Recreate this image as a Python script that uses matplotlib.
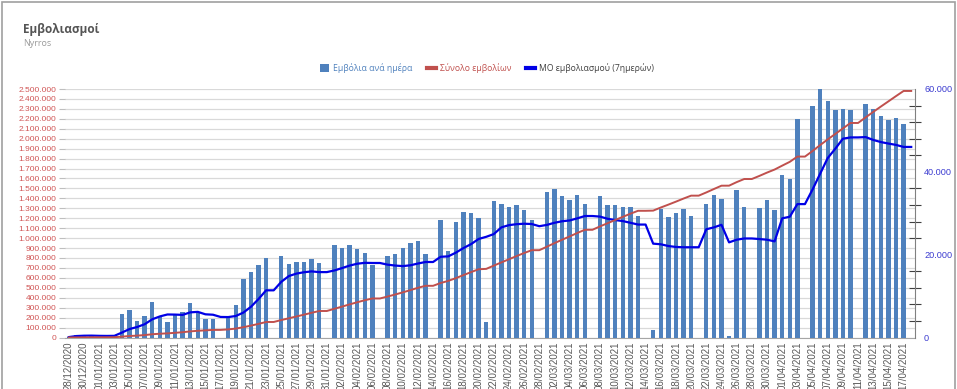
import matplotlib
matplotlib.use("Agg")
import matplotlib.pyplot as plt
from matplotlib.patches import Patch, Rectangle
from matplotlib.lines import Line2D
from matplotlib.ticker import FuncFormatter
import numpy as np
import pandas as pd

# Daily categories: 28/12/2020 .. 18/04/2021
dates = pd.date_range("2020-12-28", "2021-04-18", freq="D")
date_labels = [d.strftime("%d/%m/%Y") for d in dates]

# Vaccinations per day (thousands)
daily_k = [
    0.1, 0.6, 0.6, 0.5, 0.2, 0.3, 0.5, 5.6, 6.6, 4.0,
    5.3, 8.5, 5.1, 3.8, 5.4, 6.1, 8.3, 6.1, 4.4, 4.4,
    0.0, 5.2, 7.9, 14.1, 15.9, 17.5, 19.1, 0.0, 19.6, 17.7,
    18.2, 18.2, 18.9, 17.9, 0.0, 22.4, 21.7, 22.4, 21.4, 20.4,
    17.6, 0.0, 19.6, 20.2, 21.5, 22.7, 23.4, 20.2, 0.0, 28.4,
    20.9, 27.8, 30.4, 30.1, 28.9, 3.7, 33.0, 32.2, 31.6, 32.0,
    30.9, 28.4, 0.0, 35.2, 35.8, 34.2, 33.3, 34.5, 32.3, 0.0,
    34.2, 32.1, 32.1, 31.6, 31.6, 29.3, 0.0, 1.9, 31.1, 29.1,
    30.0, 31.1, 29.3, 0.0, 32.3, 34.3, 33.5, 0.3, 35.6, 31.4,
    0.0, 31.3, 33.2, 30.7, 39.2, 38.3, 52.8, 0.0, 55.9, 59.9,
    57.2, 55.0, 55.2, 55.0, 0.0, 56.4, 55.1, 53.6, 52.5, 52.9,
    51.6, 0.0,
]

# Total vaccinations (thousands), red line on the left axis
total_k = [
    0.1, 0.7, 1.3, 1.8, 2.0, 2.3, 2.8, 8.4, 15.0, 19.0,
    24.3, 32.8, 37.9, 41.7, 47.1, 53.2, 61.5, 67.6, 72.0, 76.4,
    76.4, 81.6, 89.5, 103.6, 119.5, 137.0, 156.1, 156.1, 175.7, 193.4,
    211.6, 229.8, 248.7, 266.6, 266.6, 289.0, 310.7, 333.1, 354.5, 374.9,
    392.5, 392.5, 412.1, 432.3, 453.8, 476.5, 499.9, 520.1, 520.1, 548.5,
    569.4, 597.2, 627.6, 657.7, 686.6, 690.3, 723.3, 755.5, 787.1, 819.1,
    850.0, 878.4, 878.4, 913.6, 949.4, 983.6, 1016.9, 1051.4, 1083.7, 1083.7,
    1117.9, 1150.0, 1182.1, 1213.7, 1245.3, 1274.6, 1274.6, 1276.5, 1307.6, 1336.7,
    1366.7, 1397.8, 1427.1, 1427.1, 1459.4, 1493.7, 1527.2, 1527.5, 1563.1, 1594.5,
    1594.5, 1625.8, 1659.0, 1689.7, 1728.9, 1767.2, 1820.0, 1820.0, 1875.9, 1935.8,
    1993.0, 2048.0, 2103.2, 2158.2, 2158.2, 2214.6, 2269.7, 2323.3, 2375.8, 2428.7,
    2480.3, 2480.3,
]

# 7-day average (thousands), blue line on the right axis
avg7_k = [
    0.1, 0.35, 0.43, 0.45, 0.4, 0.38, 0.4, 1.19, 2.04, 2.53,
    3.21, 4.40, 5.09, 5.56, 5.53, 5.46, 6.07, 6.19, 5.60, 5.50,
    4.96, 4.93, 5.19, 6.01, 7.41, 9.29, 11.39, 11.39, 13.44, 14.84,
    15.43, 15.76, 15.96, 15.79, 15.79, 16.19, 16.76, 17.36, 17.81, 18.03,
    17.99, 17.99, 17.59, 17.37, 17.24, 17.43, 17.86, 18.23, 18.23, 19.49,
    19.59, 20.49, 21.59, 22.54, 23.79, 24.31, 24.97, 26.59, 27.13, 27.36,
    27.47, 27.40, 26.87, 27.19, 27.70, 28.07, 28.26, 28.77, 29.33, 29.33,
    29.19, 28.66, 28.36, 28.11, 27.70, 27.27, 27.27, 22.66, 22.51, 22.09,
    21.86, 21.79, 21.79, 21.79, 26.13, 26.59, 27.21, 22.97, 23.61, 23.91,
    23.91, 23.77, 23.61, 23.21, 28.77, 29.16, 32.21, 32.21, 35.73, 39.54,
    43.33, 45.59, 48.00, 48.31, 48.31, 48.39, 47.70, 47.19, 46.83, 46.50,
    46.01, 46.01,
]

BAR_COLOR = "#4f81bd"
TOTAL_COLOR = "#c0504d"
AVG_COLOR = "#0000e6"
LEFT_LABEL_COLOR = "#d05555"
RIGHT_LABEL_COLOR = "#3c3cd0"
TICK_FONT = "Liberation Sans"
TEXT_FONT = "Open Sans"


def dot_thousands(v, _pos=None):
    return f"{v:,.0f}".replace(",", ".")


def main():
    x = np.arange(len(date_labels))
    daily = np.array(daily_k) * 1000
    total = np.array(total_k) * 1000
    avg7 = np.array(avg7_k) * 1000

    fig = plt.figure(figsize=(9.57, 3.89), dpi=100)
    ax = fig.add_axes([65 / 957, 1 - 337.5 / 389, 850 / 957, 248.5 / 389])
    ax2 = ax.twinx()
    ax3 = ax.twinx()
    ax.set_zorder(1)
    ax2.set_zorder(2)
    ax3.set_zorder(3)
    ax2.patch.set_visible(False)
    ax3.patch.set_visible(False)

    # Left axis: grid + totals scale
    ax.set_xlim(-0.5, len(x) - 0.5)
    ax.set_ylim(0, 2_500_000)
    ax.set_yticks(np.arange(0, 2_500_001, 100_000))
    ax.yaxis.set_major_formatter(FuncFormatter(dot_thousands))
    ax.grid(True, axis="y", color="#d9d9d9", linewidth=0.9)
    ax.set_axisbelow(True)
    ax.tick_params(axis="y", length=4, color="#bfbfbf", labelsize=6,
                   labelcolor=LEFT_LABEL_COLOR, pad=2)
    for lab in ax.get_yticklabels():
        lab.set_family(TICK_FONT)
    ax.set_xticks(x[::2])
    ax.set_xticklabels(date_labels[::2], rotation=90, fontsize=7,
                       color="#595959", family=TICK_FONT)
    ax.tick_params(axis="x", length=0, pad=3)
    for side in ("left", "top", "right"):
        ax.spines[side].set_visible(False)
    ax.spines["bottom"].set_color("#a6a6a6")

    # Right axis: daily bars and 7-day average
    ax2.bar(x, daily, width=0.58, color=BAR_COLOR, zorder=2)
    ax2.plot(x, avg7, color=AVG_COLOR, linewidth=1.6, zorder=3)
    ax2.set_ylim(0, 60_000)
    ax2.set_yticks([0, 20_000, 40_000, 60_000])
    ax2.set_yticks([v for v in range(4000, 60000, 4000) if v % 20000], minor=True)
    ax2.yaxis.set_major_formatter(FuncFormatter(dot_thousands))
    ax2.tick_params(axis="y", which="major", length=0, labelsize=6.6,
                    labelcolor=RIGHT_LABEL_COLOR, pad=6.5)
    ax2.tick_params(axis="y", which="minor", length=8, direction="inout",
                    color="#404040", width=0.8)
    for lab in ax2.get_yticklabels():
        lab.set_family(TICK_FONT)
    for side in ("left", "top", "bottom"):
        ax2.spines[side].set_visible(False)
    ax2.spines["right"].set_color("#808080")

    # Totals on top, sharing the left scale
    ax3.plot(x, total, color=TOTAL_COLOR, linewidth=1.4)
    ax3.set_ylim(0, 2_500_000)
    ax3.axis("off")

    fig.text(23 / 957, 1 - 29 / 389, "Εμβολιασμοί", fontsize=8.5,
             fontweight="bold", color="#555555", va="center", family=TEXT_FONT)
    fig.text(23 / 957, 1 - 44 / 389, "Nyrros", fontsize=6.5, color="#9a9a9a",
             va="center", family=TEXT_FONT)

    handles = [
        Patch(facecolor=BAR_COLOR, edgecolor="none"),
        Line2D([], [], color=TOTAL_COLOR, linewidth=3),
        Line2D([], [], color=AVG_COLOR, linewidth=3),
    ]
    labels = ["Εμβόλια ανά ημέρα", "Σύνολο εμβολίων", "ΜΟ εμβολιασμού (7ημερών)"]
    fig.legend(handles, labels, loc="center", bbox_to_anchor=(487 / 957, 1 - 68 / 389),
               ncol=3, frameon=False, handlelength=1.1, handleheight=1.0,
               handletextpad=0.5, columnspacing=1.6,
               labelcolor=["#4f81bd", "#c0504d", "#404040"],
               prop={"family": TEXT_FONT, "size": 6.2})

    fig.add_artist(Rectangle((0.002, -0.02), 0.996, 1.015, transform=fig.transFigure,
                             fill=False, edgecolor="#a0a0a0", linewidth=1.2))

    fig.savefig("out.png", dpi=100)


if __name__ == "__main__":
    main()
